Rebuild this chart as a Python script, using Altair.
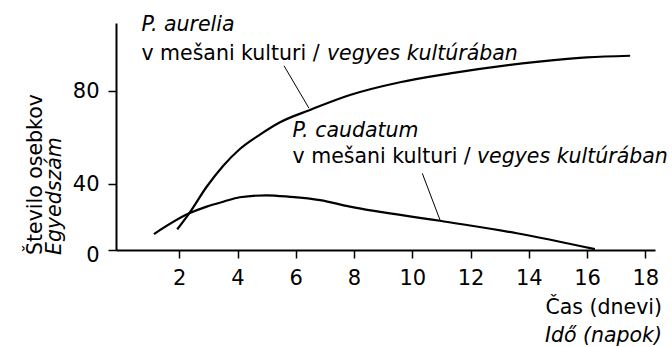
import altair as alt
import pandas as pd

# Population of Paramecium species grown together (mixed culture)
days_aurelia = [1.93, 2.34, 2.94, 3.51, 4.08, 4.77, 5.46, 6.49, 7.86, 9.58, 11.3, 14.27, 15.99, 17.48]
count_aurelia = [12.6, 22.3, 38.5, 48.0, 55.2, 61.4, 66.7, 72.0, 78.4, 83.9, 87.7, 92.7, 94.6, 95.3]

days_caudatum = [1.13, 2.34, 2.94, 3.51, 4.08, 5.0, 5.8, 6.83, 7.86, 10.95, 13.59, 16.27]
count_caudatum = [9.7, 22.3, 26.4, 29.4, 32.1, 33.3, 32.4, 30.4, 26.4, 17.8, 10.2, 0.5]

x_ticks = [2, 4, 6, 8, 10, 12, 14, 16, 18]
y_ticks = [0, 40, 80]

FONT = "DejaVu Sans"
FS = 20.5
W, H = 539, 227

xscale = alt.Scale(domain=[-0.173, 18.334], nice=False, zero=False)
# piecewise vertical scale following the drawn axis spacing
yscale = alt.Scale(domain=[0, 40, 80, 109.4], range=[227, 161.3, 68.3, 0], nice=False, zero=False)

curves = pd.concat([
    pd.DataFrame({"day": days_aurelia, "count": count_aurelia, "species": "aurelia"}),
    pd.DataFrame({"day": days_caudatum, "count": count_caudatum, "species": "caudatum"}),
])

lines = alt.Chart(curves).mark_line(
    color="black", strokeWidth=2.2, interpolate="monotone"
).encode(
    x=alt.X("day:Q", scale=xscale,
            axis=alt.Axis(values=x_ticks, title=None, domainWidth=2, tickWidth=1.5)),
    y=alt.Y("count:Q", scale=yscale,
            axis=alt.Axis(values=y_ticks, title=None, domainWidth=2, tickWidth=1.5,
                          labelOffset={"condition": {"test": "datum.value === 0", "value": 5}, "value": 0})),
    detail="species:N",
)

# thin pointer lines from labels to curves
leader = pd.DataFrame({
    "x1": [5.595, 10.344], "y1": [91.0, 44.7],
    "x2": [6.454, 10.951], "y2": [72.7, 18.3],
})
leaders = alt.Chart(leader).mark_rule(color="black", strokeWidth=1).encode(
    x=alt.X("x1:Q", scale=xscale), y=alt.Y("y1:Q", scale=yscale),
    x2="x2:Q", y2="y2:Q",
)

def label(x, y, text, italic=False):
    df = pd.DataFrame({"x": [x], "y": [y], "t": [text]})
    return alt.Chart(df).mark_text(
        font=FONT, fontSize=FS, color="black", align="left", baseline="alphabetic",
        fontStyle="italic" if italic else "normal",
    ).encode(x=alt.X("x:Q", scale=xscale), y=alt.Y("y:Q", scale=yscale), text="t:N")

labels = [
    label(0.70, 105.9, "P. aurelia", True),
    label(0.70, 93.5, "v mešani kulturi /"),
    label(7.07, 93.5, "vegyes kultúrában", True),
    label(5.89, 60.5, "P. caudatum", True),
    label(5.89, 49.0, "v mešani kulturi /"),
    label(12.22, 49.0, "vegyes kultúrában", True),
]

def title(x, y, text, italic=False, angle=0, align="left"):
    df = pd.DataFrame({"t": [text]})
    kw = dict(font=FONT, fontSize=FS, color="black", align=align, baseline="alphabetic",
              fontStyle="italic" if italic else "normal")
    if angle:
        kw["angle"] = angle
    return alt.Chart(df).mark_text(**kw).encode(x=alt.value(x), y=alt.value(y), text="t:N")

titles = [
    title(-74, 232, "Število osebkov", angle=270),
    title(-55, 232, "Egyedszám", italic=True, angle=270),
    title(546, 291, "Čas (dnevi)", align="right"),
    title(546, 319, "Idő (napok)", italic=True, align="right"),
]

chart = alt.layer(lines, leaders, *labels, *titles).properties(
    width=W, height=H,
    autosize=alt.AutoSizeParams(type="none"),
    padding={"left": 116, "top": 23, "right": 17, "bottom": 97},
).configure_view(stroke=None).configure_axis(
    grid=False, domainColor="black", tickColor="black", tickSize=8,
    labelFont=FONT, labelFontSize=21, labelColor="black", labelPadding=9,
)

chart.save("out.html", embed_options={"renderer": "svg", "actions": False})
